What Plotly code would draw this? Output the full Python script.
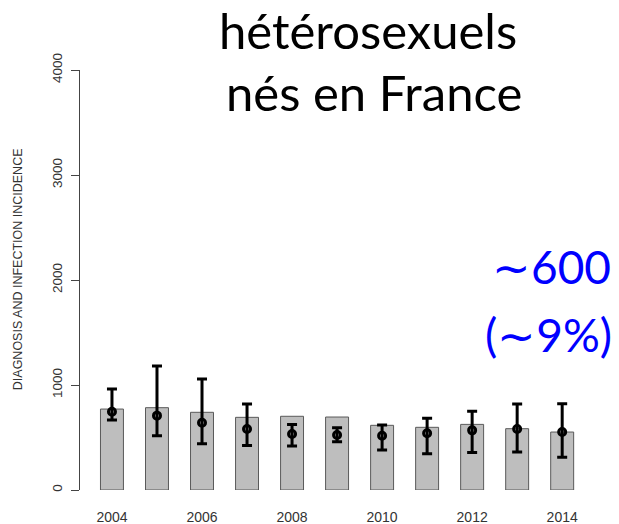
import plotly.graph_objects as go

annees = list(range(2004, 2015))
diagnostics = [771, 784, 740, 692, 702, 695, 616, 597, 625, 584, 552]
incidence = [746, 708, 641, 581, 533, 524, 517, 540, 568, 581, 552]
incidence_haut = [962, 1181, 1057, 819, 625, 594, 619, 683, 749, 819, 822]
incidence_bas = [667, 517, 441, 425, 419, 460, 381, 346, 356, 362, 311]

err_plus = [h - v for h, v in zip(incidence_haut, incidence)]
err_moins = [v - b for v, b in zip(incidence, incidence_bas)]

fig = go.Figure()
fig.add_trace(go.Bar(
    x=annees, y=diagnostics, width=0.51,
    marker=dict(color="#bebebe", line=dict(color="#5a5a5a", width=1)),
))
fig.add_trace(go.Scatter(
    x=annees, y=incidence, mode="markers",
    marker=dict(symbol="circle-open", size=7, color="black", line=dict(width=3, color="black")),
    error_y=dict(type="data", symmetric=False, array=err_plus, arrayminus=err_moins,
                 color="black", thickness=3, width=5),
))

# la page ajoute une marge de 8 px : figure un peu plus petite
fig.update_layout(
    width=611, height=516,
    margin=dict(l=72, r=10, t=62, b=34),
    plot_bgcolor="white", paper_bgcolor="white",
    showlegend=False,
    font=dict(family="Liberation Sans, Arial", color="#333333", size=13),
)
fig.update_xaxes(
    range=[2003.29, 2015.04], tickvals=[2004, 2006, 2008, 2010, 2012, 2014],
    showline=False, showgrid=False, zeroline=False, ticks="", automargin=False,
    ticklabelstandoff=17, tickfont=dict(size=14, color="#333333"),
)
fig.update_yaxes(
    range=[0, 4000], tickvals=[0, 1000, 2000, 3000, 4000],
    showline=True, linecolor="#444444", linewidth=1,
    ticks="outside", ticklen=8, tickcolor="#444444", automargin=False,
    showgrid=False, zeroline=False, tickangle=-90,
    ticklabelstandoff=4, tickfont=dict(size=13.5, color="#333333"),
)

# titre de l'axe y, un peu au-dessus du centre comme dans l'original
fig.add_annotation(
    x=-0.117, y=0.526, xref="paper", yref="paper", xanchor="center", yanchor="middle",
    text="DIAGNOSIS AND INFECTION INCIDENCE", textangle=-90, showarrow=False,
    font=dict(size=12.5, color="#333333"),
)

# titre en deux lignes
titre = [("hétérosexuels", 0.5435, 1.095), ("nés en France", 0.555, 0.948)]
for txt, xp, yp in titre:
    fig.add_annotation(
        x=xp, y=yp, xref="paper", yref="paper", xanchor="center", yanchor="middle",
        text=txt, showarrow=False,
        font=dict(family="Lato, Open Sans", size=49, color="black"),
    )

bleu = [("∼600", 0.891, 0.531), ("(∼9%)", 0.886, 0.371)]
for txt, xp, yp in bleu:
    fig.add_annotation(
        x=xp, y=yp, xref="paper", yref="paper", xanchor="center", yanchor="middle",
        text=txt, showarrow=False,
        font=dict(family="Lato, Open Sans", size=46, color="#0000ff"),
    )

fig.write_html("out.html")
